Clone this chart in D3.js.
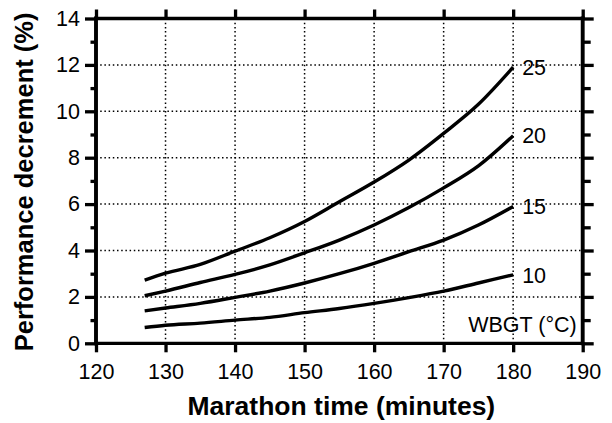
<!DOCTYPE html>
<html>
<head>
<meta charset="utf-8">
<script src="https://cdn.jsdelivr.net/npm/d3@7"></script>
<style>
  html, body { margin: 0; padding: 0; background: #fff; }
  svg { display: block; }
  text { font-family: "Liberation Sans", Arial, Helvetica, sans-serif; fill: #000; }
</style>
</head>
<body>
<svg id="chart" width="612" height="423"></svg>
<script>
// ---- data ----
const minutes = [127, 130, 135, 140, 145, 150, 155, 160, 165, 170, 175, 180];
const wbgt25 = [2.72, 3.02, 3.40, 3.97, 4.55, 5.25, 6.10, 6.95, 7.90, 9.05, 10.30, 11.9];
const wbgt20 = [2.05, 2.25, 2.62, 2.97, 3.38, 3.90, 4.45, 5.10, 5.85, 6.70, 7.65, 8.95];
const wbgt15 = [1.40, 1.52, 1.72, 1.98, 2.25, 2.60, 3.00, 3.45, 3.95, 4.45, 5.10, 5.90];
const wbgt10 = [0.68, 0.78, 0.87, 1.00, 1.12, 1.32, 1.50, 1.72, 1.97, 2.25, 2.60, 2.95];
const seriesLabels = ["25", "20", "15", "10"];
const xTicks = [120, 130, 140, 150, 160, 170, 180, 190];
const yTicks = [0, 2, 4, 6, 8, 10, 12, 14];
const yMinorTicks = [1, 3, 5, 7, 9, 11, 13];
const xGrid = [130, 140, 150, 160, 170, 180];
const yGrid = [2, 4, 6, 8, 10, 12];
const xTitle = "Marathon time (minutes)";
const yTitle = "Performance decrement (%)";
const legendTitle = "WBGT (°C)";

const series = [wbgt25, wbgt20, wbgt15, wbgt10];

const svg = d3.select("#chart");
const L = 96, R = 582.7, T = 18.5, B = 343.3;
const x = d3.scaleLinear().domain([120, 190]).range([L, R]);
const y = d3.scaleLinear().domain([0, 14]).range([B, T]);

const fs = 21.5;

// grid
const grid = svg.append("g").attr("stroke", "#000").attr("stroke-width", 1.5)
  .attr("stroke-dasharray", "1.5,2.7").attr("fill", "none");
grid.selectAll("line.v").data(xGrid).join("line").attr("class", "v")
  .attr("x1", d => x(d)).attr("x2", d => x(d)).attr("y1", T).attr("y2", B);
grid.selectAll("line.h").data(yGrid).join("line").attr("class", "h")
  .attr("x1", L).attr("x2", R).attr("y1", d => y(d)).attr("y2", d => y(d));

// axes
function styleAxis(g) {
  g.select(".domain").remove();
  g.selectAll(".tick line").attr("stroke", "#000").attr("stroke-width", 3.3);
  g.selectAll(".tick text").style("font-size", fs + "px").style("font-family", '"Liberation Sans", Arial, sans-serif').attr("fill", "#000");
}
svg.append("g").attr("transform", `translate(0,${B})`)
  .call(d3.axisBottom(x).tickValues(xTicks).tickSize(9).tickPadding(11).tickFormat(d3.format("d")))
  .call(styleAxis);
svg.append("g").attr("transform", `translate(0,${T})`)
  .call(d3.axisTop(x).tickValues(xTicks).tickSize(9).tickFormat(""))
  .call(styleAxis);
svg.append("g").attr("transform", `translate(${L},0)`)
  .call(d3.axisLeft(y).tickValues(yTicks).tickSize(11).tickPadding(5).tickFormat(d3.format("d")))
  .call(styleAxis);
svg.append("g").attr("transform", `translate(${L},0)`)
  .call(d3.axisLeft(y).tickValues(yMinorTicks).tickSize(5.5).tickFormat(""))
  .call(styleAxis);
svg.append("g").attr("transform", `translate(${R},0)`)
  .call(d3.axisRight(y).tickValues(yTicks).tickSize(11).tickFormat(""))
  .call(styleAxis);
svg.append("g").attr("transform", `translate(${R},0)`)
  .call(d3.axisRight(y).tickValues(yMinorTicks).tickSize(8).tickFormat(""))
  .call(styleAxis);

// frame
const frame = svg.append("g").attr("stroke", "#000").attr("stroke-linecap", "square");
frame.append("line").attr("x1", L).attr("x2", R).attr("y1", T).attr("y2", T).attr("stroke-width", 3.3);
frame.append("line").attr("x1", L).attr("x2", R).attr("y1", B).attr("y2", B).attr("stroke-width", 3.3);
frame.append("line").attr("x1", L).attr("x2", L).attr("y1", T).attr("y2", B).attr("stroke-width", 3.9);
frame.append("line").attr("x1", R).attr("x2", R).attr("y1", T).attr("y2", B).attr("stroke-width", 3.9);

// curves
const line = d3.line().x(d => x(d[0])).y(d => y(d[1])).curve(d3.curveMonotoneX);
svg.append("g").selectAll("path").data(series).join("path")
  .attr("d", s => line(minutes.map((m, i) => [m, s[i]])))
  .attr("fill", "none").attr("stroke", "#000").attr("stroke-width", 3.4);

// end labels
svg.append("g").selectAll("text").data(series).join("text")
  .attr("x", x(minutes[minutes.length - 1]) + 9)
  .attr("y", s => y(s[s.length - 1]))
  .attr("dy", "0.36em")
  .style("font-size", fs + "px")
  .text((s, i) => seriesLabels[i]);

svg.append("text").attr("x", R - 6).attr("y", 332).attr("text-anchor", "end")
  .style("font-size", fs + "px").text(legendTitle);

// titles
svg.append("text").attr("x", (L + R) / 2 + 2).attr("y", 415).attr("text-anchor", "middle")
  .style("font-size", "26.5px").style("font-weight", "bold").text(xTitle);
svg.append("text").attr("transform", `translate(33,${(T + B) / 2 + 1}) rotate(-90)`)
  .attr("text-anchor", "middle")
  .style("font-size", "25.5px").style("font-weight", "bold").text(yTitle);
</script>
</body>
</html>
